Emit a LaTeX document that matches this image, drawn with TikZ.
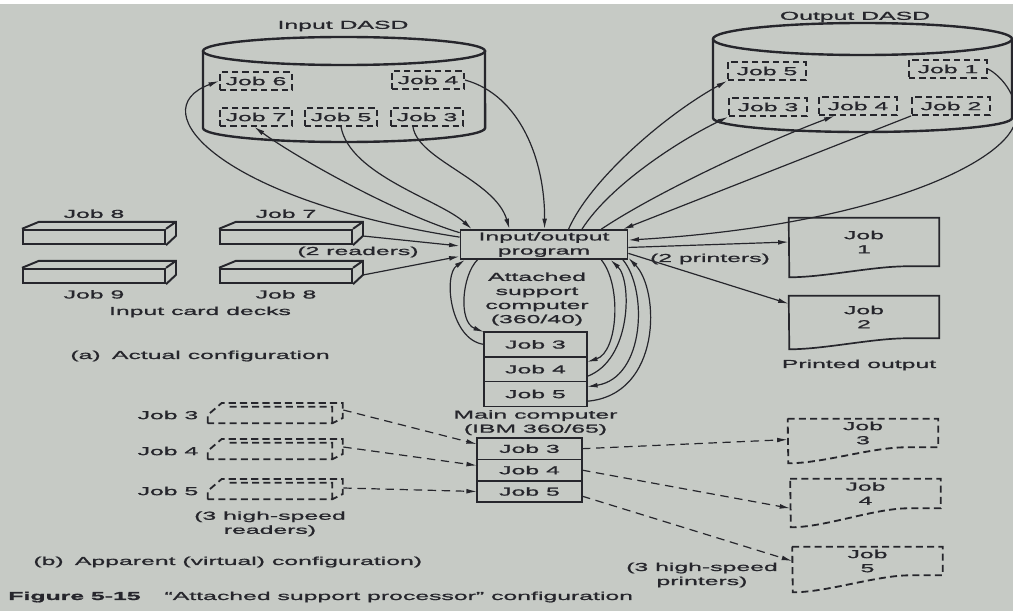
\documentclass[tikz,border=0pt]{standalone}
\usepackage{fontspec}
\setmainfont{Liberation Sans}[FakeStretch=2.15, FakeBold=1.2]
\usepackage{tikz}
\usetikzlibrary{shapes,arrows.meta,positioning,calc}

\definecolor{ink}{RGB}{38,38,44}
\definecolor{paper}{RGB}{198,202,197}
\newcommand{\figfont}{\fontsize{8.2}{10}\selectfont}

\begin{document}
\begin{tikzpicture}[x=0.025cm, y=-0.025cm, >={Latex[length=7.5pt,width=3.4pt]},
    every node/.style={font=\figfont, text=ink, inner sep=1.5pt},
    lbl/.style={align=center},
    dasd/.style={draw=ink, line width=1.7pt},
    jobtag/.style={draw=ink, line width=1.3pt, dash pattern=on 4.5pt off 2.8pt, minimum width=1.8cm, minimum height=0.45cm, inner sep=0pt},
    iobox/.style={draw=ink, line width=1.2pt, minimum width=4.175cm, minimum height=0.725cm, align=center, inner sep=0pt},
    jobrow/.style={draw=ink, line width=1.2pt, minimum width=2.575cm, minimum height=0.62cm, inner sep=0pt, outer sep=0pt},
    deck/.style={draw=ink, line width=1.4pt, minimum width=3.55cm, minimum height=0.36cm, inner sep=0pt},
    vdeck/.style={minimum width=3.1cm, minimum height=0.4cm, inner sep=0pt},
    sheet/.style={minimum width=3.75cm, inner sep=0pt},
    outline/.style={draw=ink, line width=1.2pt},
    dashline/.style={draw=ink, line width=1.3pt, dash pattern=on 5pt off 3pt},
    arrow/.style={draw=ink, line width=0.85pt, ->},
    virt/.style={arrow, dash pattern=on 6pt off 4pt}]

    \useasboundingbox (0,0) rectangle (1013,611);
    \fill[paper] (0,0) rectangle (1013,611);
    \fill[white] (0,0) rectangle (1013,4);

    % Disks
    \draw[dasd] (344,51) ellipse [x radius=3.525cm, y radius=0.35cm];
    \draw[dasd] (203,51) -- (203,128) arc [start angle=180, end angle=360, x radius=3.525cm, y radius=0.35cm] -- (485,51);
    \draw[dasd] (862.5,39) ellipse [x radius=3.7375cm, y radius=0.4cm];
    \draw[dasd] (713,39) -- (713,118) arc [start angle=180, end angle=360, x radius=3.7375cm, y radius=0.35cm] -- (1012,39);

    \node[lbl] (indasd) at (343,26) {Input DASD};
    \node[jobtag] (i6) at (256,81) {Job 6};
    \node[jobtag] (i4) at (428,80) {Job 4};
    \node[jobtag] (i7) at (256,117) {Job 7};
    \node[jobtag] (i5) at (341,117) {Job 5};
    \node[jobtag] (i3) at (427,117) {Job 3};

    \node[lbl] (outdasd) at (855,17) {Output DASD};
    \node[jobtag, minimum width=1.95cm] (o5) at (767,71) {Job 5};
    \node[jobtag, minimum width=1.95cm] (o1) at (948,69) {Job 1};
    \node[jobtag, minimum width=1.95cm] (o3) at (768,107) {Job 3};
    \node[jobtag, minimum width=1.95cm] (o4) at (858,106) {Job 4};
    \node[jobtag, minimum width=1.95cm] (o2) at (951,106) {Job 2};

    % Card decks
    \node[deck] (d8a) at (94,237) {};
    \node[deck] (d9) at (94,276) {};
    \node[deck, minimum width=3.3cm] (d7) at (286,237) {};
    \node[deck, minimum width=3.3cm] (d8b) at (286,276) {};
    \foreach \d in {d8a,d9,d7,d8b}
        \draw[ink, line width=1.4pt] (\d.north west) -- ++(17,-7) -- ($(\d.north east)+(10,-7)$) -- ++(0,14) -- (\d.south east)
            (\d.north east) -- ++(10,-7);
    \node[lbl, above=6pt of d8a] {Job 8};
    \node[lbl, above=6pt of d7] {Job 7};
    \node[lbl, below=2.5pt of d9] {Job 9};
    \node[lbl, below=2.5pt of d8b] {Job 8};
    \node[lbl] at (358,252) {(2 readers)};
    \node[lbl] at (200,312) {Input card decks};
    \node[anchor=west] at (68,356) {(a)\hspace{8pt}Actual configuration};

    % Processors
    \node[iobox] (io) at (544,244.5) {Input/output\\program};
    \node[lbl] (asc) at (537,299) {Attached\\support\\computer\\(360/40)};
    \node[jobrow] (m3) at (535.5,344.4) {Job 3};
    \node[jobrow, below=0pt of m3] (m4) {Job 4};
    \node[jobrow, below=0pt of m4] (m5) {Job 5};
    \node[lbl, below=1pt of m5] (mc) {Main computer\\(IBM 360/65)};

    % Printed output
    \node[sheet, minimum height=1.2cm, label={[lbl]center:{Job\\1}}] (p1) at (864,242) {};
    \node[sheet, minimum height=1.05cm, label={[lbl]center:{Job\\2}}] (p2) at (864,317) {};
    \foreach \n/\dr in {p1/11,p2/11}
        \draw[outline] (\n.north west) -- (\n.north east) -- (\n.south east) -- ++(-32,0)
            .. controls +(-35,0) and +(35,0) .. ++(-118,\dr) -- cycle;
    \node[lbl] at (710,259) {(2 printers)};
    \node[lbl] at (859,365) {Printed output};

    % Connections (a)
    \draw[arrow] ($(d7.east)+(10,-1)$) -- (io.181);
    \draw[arrow] ($(d8b.east)+(10,-1)$) -- (io.188);
    \draw[arrow] (io.175) .. controls (220,200) and (140,110) .. (i6.west);
    \draw[arrow] (io.172) .. controls (400,215) and (300,160) .. (i7.-100);
    \draw[arrow] (i5.south) .. controls (350,175) and (440,200) .. (io.168);
    \draw[arrow] ($(i3.south)+(-14,0)$) .. controls (418,160) and (495,180) .. (io.156);
    \draw[arrow] (i4.east) .. controls (520,95) and (545,160) .. (io.88);

    \draw[arrow] (io.32) .. controls (590,180) and (665,115) .. (o5.south west);
    \draw[arrow] (io.22) .. controls (610,185) and (680,140) .. (o3.south west);
    \draw[arrow] (io.15) .. controls (660,190) and (770,140) .. (o4.-157);
    \draw[arrow] (o2.south west) -- (io.11);
    \draw[arrow] (o1.east) .. controls (1000,75) and (1018,95) .. (1016,118)
        .. controls (1012,160) and (880,225) .. (io.3);

    \draw[arrow] (io.358) -- (p1.west);
    \draw[arrow] (io.354) -- (p2.170);

    \draw[arrow] (m3.west) .. controls (450,340) and (443,275) .. (io.191);
    \draw[arrow] (io.193) .. controls (462,275) and (458,322) .. (m3.north west);
    \draw[arrow] (io.345) .. controls (622,285) and (618,352) .. (m4.8);
    \draw[arrow] (m4.-8) .. controls (632,360) and (632,280) .. (io.347);
    \draw[arrow] (io.349) .. controls (648,290) and (645,378) .. (m5.8);
    \draw[arrow] (m5.-8) .. controls (662,395) and (660,290) .. (io.351);

    % Virtual configuration (b)
    \node[vdeck] (r3) at (270,415) {};
    \node[vdeck] (r4) at (270,451) {};
    \node[vdeck] (r5) at (270,491) {};
    \foreach \r in {r3,r4,r5}
        \draw[dashline] (\r.south west) -- (\r.west) -- ++(14,-12) -- ++(121,0) -- ++(0,15) -- (\r.south east) -- cycle
            ($(\r.north west)+(22,0)$) -- (\r.north east) -- (\r.south east);
    \node[lbl, left=5pt of r3] {Job 3};
    \node[lbl, left=5pt of r4] {Job 4};
    \node[lbl, left=5pt of r5] {Job 5};
    \node[lbl, below=6.9pt of r5] {(3 high-speed\\readers)};

    \node[jobrow, minimum width=2.625cm, minimum height=0.535cm] (v3) at (529.5,448.7) {Job 3};
    \node[jobrow, minimum width=2.625cm, minimum height=0.535cm, below=0pt of v3] (v4) {Job 4};
    \node[jobrow, minimum width=2.625cm, minimum height=0.535cm, below=0pt of v4] (v5) {Job 5};

    \node[sheet, minimum height=0.7cm, label={[lbl]center:{Job\\3}}] (p3v) at (863,433) {};
    \node[sheet, minimum height=0.725cm, label={[lbl]center:{Job\\4}}] (p4v) at (865.5,493.5) {};
    \node[sheet, minimum height=0.7cm, label={[lbl]center:{Job\\5}}] (p5v) at (867.5,561) {};
    \foreach \n/\dr in {p3v/16,p4v/19,p5v/17}
        \draw[dashline] (\n.north west) -- (\n.north east) -- (\n.south east) -- ++(-32,0)
            .. controls +(-35,0) and +(35,0) .. ++(-118,\dr) -- cycle;
    \node[lbl] at (702,575) {(3 high-speed\\printers)};

    \draw[virt] ($(r3.east)+(11,-5)$) -- (v3.175);
    \draw[virt] ($(r4.east)+(11,-4)$) -- (v4.175);
    \draw[virt] ($(r5.east)+(11,-3)$) -- (v5.west);
    \draw[virt] (v3.east) -- (p3v.185);
    \draw[virt] (v4.east) -- (p4v.south west);
    \draw[virt] (v5.355) -- (p5v.west);

    \node[anchor=west] at (31,562) {(b)\hspace{8pt}Apparent (virtual) configuration)};
    \node[anchor=west] at (6,597) {\bfseries Figure 5-15\hspace{17pt}\mdseries ``Attached support processor'' configuration};

\end{tikzpicture}
\end{document}
